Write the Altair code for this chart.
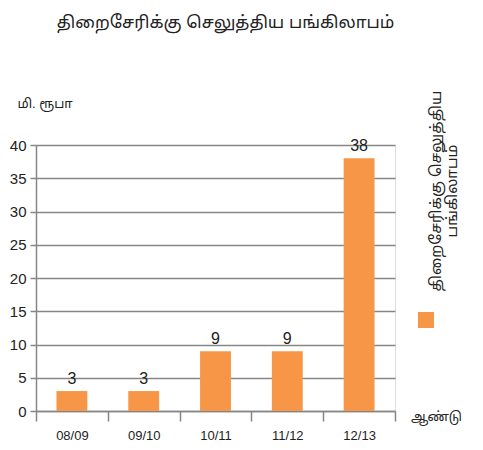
import altair as alt
import pandas as pd

# ---- data ----
years = ["08/09", "09/10", "10/11", "11/12", "12/13"]
dividend = [3, 3, 9, 9, 38]
series_name = "திறைசேரிக்கு செலுத்திய பங்கிலாபம்"
legend_lines = ["திறைசேரிக்கு  செலுத்திய", "பங்கிலாபம்"]
chart_title = "திறைசேரிக்கு  செலுத்திய  பங்கிலாபம்"
y_title = "மி.  ரூபா"
x_title = "ஆண்டு"
y_ticks = [0, 5, 10, 15, 20, 25, 30, 35, 40]

df = pd.DataFrame({"year": years, "value": dividend, "series": [series_name] * len(years)})
cap_df = pd.DataFrame({"caption": [legend_lines]})

FONT = "Liberation Sans, Arial, Noto Sans Tamil, sans-serif"
ORANGE = "#F79646"
GRID = "#868686"
TXT = "#222222"

x_enc = alt.X(
    "year:N",
    sort=years,
    scale=alt.Scale(paddingInner=0, paddingOuter=0),
    axis=alt.Axis(
        title=x_title,
        titleX=400, titleY=5, titleAlign="center", titleBaseline="middle",
        titleFontSize=13, titleFontWeight="normal", titleColor=TXT,
        labelAngle=0, labelFontSize=13, labelColor=TXT, labelPadding=8,
        tickBand="extent", tickSize=10, tickColor=GRID, tickWidth=1.5,
        domainColor=GRID, domainWidth=1.5, grid=False,
    ),
)
y_enc = alt.Y(
    "value:Q",
    scale=alt.Scale(domain=[0, 40], nice=False),
    axis=alt.Axis(
        title=y_title,
        titleAngle=0, titleX=-19, titleY=-42, titleAlign="left", titleBaseline="middle",
        titleFontSize=13, titleFontWeight="normal", titleColor=TXT,
        values=y_ticks, labelFontSize=15, labelColor=TXT, labelPadding=4,
        labelOverlap=False,
        tickSize=6, tickColor=GRID, tickWidth=1.5,
        domainColor=GRID, domainWidth=1.5,
        grid=True, gridColor=GRID, gridWidth=1.5,
    ),
)

bars = alt.Chart(df).mark_bar(width=alt.RelativeBandSize(0.43)).encode(
    x=x_enc,
    y=y_enc,
    color=alt.Color(
        "series:N",
        scale=alt.Scale(range=[ORANGE]),
        legend=alt.Legend(
            orient="none", legendX=382, legendY=167, title=None,
            labelExpr="''", symbolType="square", symbolSize=256,
            symbolStrokeWidth=0, symbolOpacity=1, padding=0,
        ),
    ),
)

labels = alt.Chart(df).mark_text(
    baseline="bottom", dy=-4, fontSize=16, color=TXT, font=FONT
).encode(x=x_enc, y=y_enc, text="value:Q")

caption = alt.Chart(cap_df).mark_text(
    angle=270, align="center", baseline="middle", fontSize=15,
    color=TXT, font=FONT, lineHeight=16,
).encode(x=alt.value(400), y=alt.value(46), text="caption")

chart = (
    alt.layer(bars, labels, caption)
    .properties(
        width=359,
        height=266,
        autosize=alt.AutoSizeParams(type="none"),
        padding={"left": 28, "top": 137, "right": 80, "bottom": 31},
        title=alt.TitleParams(
            chart_title, fontSize=17, fontWeight="normal", color=TXT,
            font=FONT, anchor="middle", dx=10, dy=-53,
        ),
    )
    .configure_view(stroke=None)
    .configure(font=FONT)
)

chart.save("out.html", embed_options={"renderer": "svg", "actions": False})
